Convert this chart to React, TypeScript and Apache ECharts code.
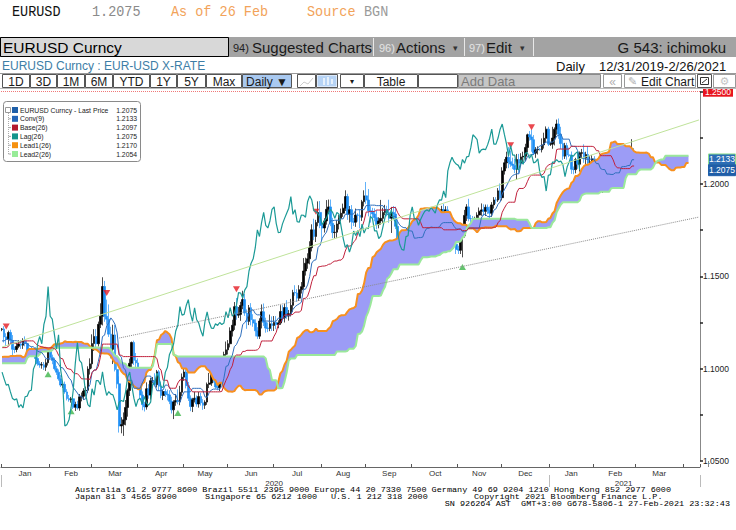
import React, { useEffect, useRef } from 'react';
import * as echarts from 'echarts';

// ---------- axis / calendar data ----------
const monthLabels = ['Jan','Feb','Mar','Apr','May','Jun','Jul','Aug','Sep','Oct','Nov','Dec','Jan','Feb','Mar','Apr'];
const monthDays = [23,20,22,22,21,22,23,21,22,22,21,23,21,20,23,22];
const yearLabels = ['2020','2021'];
const yearStarts = [0, 262];
const yearMids = [130, 297];
const totalDays = 334;
const yTicks = { min: 1.05, max: 1.25, step: 0.025 };

// ---------- daily data: [close, upper wick pips, lower wick pips] ----------
const startOpen = 1.1064;
const sep19 = [[1.1074,30,20],[1.1001,15,25],[1.1072,18,15],[1.1030,25,18],[1.1040,35,20],[1.1016,40,12],[1.0990,25,25],[1.0993,30,20],[1.0940,20,15],[1.0921,20,20],[1.0940,20,40],[1.0899,15,12]];
const oct19 = [[1.0930,10,20],[1.0958,15,15],[1.0968,30,12],[1.0979,20,20],[1.0970,15,25],[1.0955,10,18],[1.0972,20,20],[1.1006,20,15],[1.1040,25,10],[1.1030,15,20],[1.1032,15,45],[1.1068,20,25],[1.1125,15,20],[1.1144,30,15],[1.1150,29,18],[1.1125,20,15],[1.1128,20,20],[1.1100,35,15],[1.1080,20,15],[1.1100,15,20],[1.1112,20,25],[1.1153,20,20],[1.1152,23,20]];
const nov19 = [[1.1166,10,25],[1.1128,10,15],[1.1075,15,10],[1.1066,25,15],[1.1051,20,20],[1.1018,15,15],[1.1033,15,20],[1.1010,25,15],[1.1006,20,15],[1.1022,15,18],[1.1051,15,20],[1.1071,20,15],[1.1077,20,20],[1.1073,25,15],[1.1053,25,15],[1.1022,30,10],[1.1013,15,20],[1.1018,15,10],[1.1008,10,15],[1.1010,12,10],[1.1017,35,20]];
const dec19 = [[1.1078,40,15],[1.1081,35,15],[1.1077,25,15],[1.1104,20,20],[1.1058,10,20],[1.1065,25,20],[1.1092,15,15],[1.1129,15,20],[1.1130,70,25],[1.1121,70,25],[1.1144,20,20],[1.1150,25,15],[1.1112,10,15],[1.1122,15,20],[1.1078,15,10],[1.1089,10,15],[1.1090,15,10],[1.1090,5,5],[1.1100,10,10],[1.1176,10,10],[1.1199,15,15],[1.1213,25,15]];
const jan20 = [[1.1215,5,10],[1.1172,15,30],[1.1159,20,35],[1.1196,10,30],[1.1152,15,15],[1.1105,30,40],[1.1104,15,20],[1.1121,20,15],[1.1134,20,10],[1.1127,20,20],[1.1150,15,20],[1.1136,25,15],[1.1091,15,10],[1.1094,15,10],[1.1083,25,20],[1.1092,10,15],[1.1055,25,20],[1.1026,20,10],[1.1020,15,15],[1.1021,15,20],[1.1008,15,15],[1.1032,20,20],[1.1093,15,15]];
const feb20 = [[1.1061,20,15],[1.1044,15,20],[1.1000,15,10],[1.0981,15,15],[1.0945,15,10],[1.0911,20,10],[1.0915,15,15],[1.0874,15,10],[1.0838,15,10],[1.0831,20,10],[1.0837,10,15],[1.0791,10,10],[1.0806,15,20],[1.0787,20,9],[1.0848,15,15],[1.0851,20,25],[1.0879,15,20],[1.0883,20,25],[1.0998,15,15],[1.1026,30,30]];
const mar20 = [[1.1136,50,25],[1.1174,40,40],[1.1135,40,30],[1.1240,15,15],[1.1284,70,20],[1.1445,50,50],[1.1284,30,30],[1.1268,90,30],[1.1187,80,15],[1.1105,40,50],[1.1183,55,80],[1.0995,55,10],[1.0918,40,25],[1.0690,40,36],[1.0697,40,40],[1.0723,40,61],[1.0790,40,30],[1.0882,10,50],[1.1029,25,30],[1.1142,5,30],[1.1045,10,25],[1.1031,40,50]];
const apr20 = [[1.0962,25,25],[1.0857,15,20],[1.0805,20,30],[1.0793,15,25],[1.0891,35,15],[1.0857,25,20],[1.0935,15,25],[1.0935,20,15],[1.0913,40,10],[1.0983,10,15],[1.0905,10,25],[1.0855,25,15],[1.0876,10,25],[1.0862,15,15],[1.0858,25,30],[1.0823,25,15],[1.0777,25,20],[1.0819,10,50],[1.0828,35,20],[1.0822,60,15],[1.0872,35,20],[1.0954,20,20]];
const may20 = [[1.0982,40,20],[1.0908,15,15],[1.0840,20,15],[1.0795,15,25],[1.0832,10,30],[1.0840,35,15],[1.0809,15,15],[1.0849,25,20],[1.0815,20,15],[1.0802,20,25],[1.0819,10,20],[1.0915,10,15],[1.0922,55,20],[1.0977,15,15],[1.0949,25,25],[1.0901,15,10],[1.0898,15,15],[1.0980,15,20],[1.1006,20,50],[1.1077,15,35],[1.1102,45,20]];
const jun20 = [[1.1135,20,25],[1.1204,20,20],[1.1235,30,30],[1.1336,25,25],[1.1290,47,25],[1.1294,40,15],[1.1342,20,35],[1.1374,48,20],[1.1301,30,15],[1.1256,20,40],[1.1330,15,20],[1.1265,25,30],[1.1247,30,20],[1.1205,20,30],[1.1176,20,15],[1.1258,15,15],[1.1308,40,40],[1.1251,45,20],[1.1220,25,25],[1.1218,30,20],[1.1243,50,15],[1.1234,40,30]];
const jul20 = [[1.1250,35,30],[1.1239,35,25],[1.1247,15,20],[1.1309,35,10],[1.1275,35,20],[1.1331,20,25],[1.1285,40,15],[1.1298,20,25],[1.1343,35,15],[1.1412,15,35],[1.1410,40,15],[1.1382,20,20],[1.1427,25,15],[1.1444,25,20],[1.1529,70,15],[1.1571,30,25],[1.1595,30,30],[1.1655,35,30],[1.1752,30,20],[1.1716,60,20],[1.1791,15,30],[1.1846,60,20],[1.1776,62,15]];
const aug20 = [[1.1762,20,70],[1.1800,15,25],[1.1863,50,20],[1.1876,40,25],[1.1787,40,15],[1.1737,30,30],[1.1739,40,30],[1.1784,20,30],[1.1814,20,30],[1.1842,25,15],[1.1869,25,20],[1.1932,34,15],[1.1836,15,30],[1.1861,20,45],[1.1796,25,40],[1.1793,20,20],[1.1832,35,25],[1.1831,10,35],[1.1820,30,60],[1.1904,10,20],[1.1936,30,25]];
const sep20 = [[1.1913,75,20],[1.1855,60,30],[1.1851,25,60],[1.1838,20,30],[1.1818,30,20],[1.1780,40,25],[1.1800,20,20],[1.1814,100,20],[1.1846,25,25],[1.1862,25,15],[1.1845,20,20],[1.1815,70,25],[1.1846,30,80],[1.1837,35,25],[1.1771,40,15],[1.1706,30,25],[1.1657,25,15],[1.1672,15,35],[1.1632,15,20],[1.1667,20,15],[1.1745,15,15],[1.1721,40,40]];
const oct20 = [[1.1749,25,40],[1.1715,35,20],[1.1783,20,20],[1.1734,25,20],[1.1762,25,30],[1.1758,20,20],[1.1825,10,15],[1.1813,15,25],[1.1746,15,10],[1.1747,35,20],[1.1705,15,15],[1.1718,15,15],[1.1768,15,15],[1.1820,25,15],[1.1862,20,20],[1.1815,30,15],[1.1860,20,15],[1.1811,20,15],[1.1796,25,30],[1.1747,25,30],[1.1674,15,25],[1.1646,35,25]];
const nov20 = [[1.1641,20,20],[1.1715,30,20],[1.1720,50,112],[1.1830,30,10],[1.1876,15,30],[1.1813,44,15],[1.1812,20,25],[1.1777,15,20],[1.1808,15,25],[1.1832,15,20],[1.1853,20,25],[1.1860,35,25],[1.1852,30,25],[1.1874,15,25],[1.1858,15,20],[1.1842,20,40],[1.1887,15,20],[1.1914,15,20],[1.1913,15,20],[1.1963,15,10],[1.1926,40,10]];
const dec20 = [[1.2071,20,15],[1.2115,20,20],[1.2145,30,30],[1.2121,55,35],[1.2108,60,15],[1.2101,35,20],[1.2079,35,20],[1.2133,30,55],[1.2113,30,55],[1.2147,20,15],[1.2150,25,30],[1.2198,20,25],[1.2267,6,25],[1.2255,20,20],[1.2240,40,65],[1.2167,25,10],[1.2185,15,25],[1.2189,15,25],[1.2186,5,5],[1.2212,35,15],[1.2248,30,20],[1.2297,15,25],[1.2216,13,10]];
const jan21 = [[1.2216,10,10],[1.2249,61,25],[1.2297,10,40],[1.2325,24,30],[1.2270,30,25],[1.2219,40,30],[1.2151,30,20],[1.2208,15,15],[1.2157,15,25],[1.2156,40,10],[1.2080,20,25],[1.2078,15,25],[1.2132,10,20],[1.2107,40,25],[1.2166,10,40],[1.2170,20,30],[1.2140,45,25],[1.2160,15,40],[1.2114,45,20],[1.2120,30,45],[1.2136,20,25]];
const feb21 = [[1.2060,15,15],[1.2036,20,30],[1.2041,20,30],[1.1962,30,10],[1.2047,15,10],[1.2051,15,30],[1.2119,10,10],[1.2119,30,15],[1.2132,20,20],[1.2120,20,15],[1.2124,45,20],[1.2104,45,10],[1.2040,20,17],[1.2092,20,20],[1.2120,25,20],[1.2155,15,35],[1.2151,25,25],[1.2166,15,45],[1.2175,68,15],[1.2075,20,25]];

// ---------- signals, trend lines, annotations ----------
const sellSignals = [[2,1.1228],[50,1.1410],[103,1.0960],[112,1.1430],[150,1.1850],[243,1.2210],[253,1.2308]];
const buySignals = [[22,1.0970],[33,1.0770],[84,1.0760],[194,1.1610],[220,1.1550],[289,1.2003]];
const greenTrend = [[0,1.1117],[333,1.2347]];
const grayTrend = [[56,1.1166],[333,1.1821]];
const refLevel = 1.25;
const hiPoint = [265, 1.2349];
const lowPoint = [58, 1.0636];
const tagValues = [1.2133, 1.2075];
const legendNames = ['EURUSD Curncy - Last Price','Conv(9)','Base(26)','Lag(26)','Lead1(26)','Lead2(26)'];
const legendValues = ['1.2075','1.2133','1.2097','1.2075','1.2170','1.2054'];

// ---------- build ----------
const preDays = [...sep19, ...oct19, ...nov19, ...dec19];
const mainDays = [...jan20, ...feb20, ...mar20, ...apr20, ...may20, ...jun20, ...jul20, ...aug20, ...sep20, ...oct20, ...nov20, ...dec20, ...jan21, ...feb21];
const allDays = [...preDays, ...mainDays];
const P = preDays.length;
const LAST = mainDays.length - 1;

const O: number[] = [], H: number[] = [], L: number[] = [], C: number[] = [];
{
  let prev = startOpen;
  for (const [c, u, d] of allDays) {
    const o = prev;
    O.push(o); C.push(c);
    H.push(Math.max(o, c) + u / 1e4);
    L.push(Math.min(o, c) - d / 1e4);
    prev = c;
  }
}
function mid(g: number, n: number) {
  let hi = -Infinity, lo = Infinity;
  for (let k = g - n + 1; k <= g; k++) {
    if (k < 0) continue;
    if (H[k] > hi) hi = H[k];
    if (L[k] < lo) lo = L[k];
  }
  return +(((hi + lo) / 2).toFixed(5));
}

const dayMonthIdx: number[] = [];
const monthStarts: number[] = [];
{
  let acc = 0;
  monthDays.forEach((n, m) => { monthStarts.push(acc); acc += n; for (let i = 0; i < n; i++) dayMonthIdx.push(m); });
}
const startSet = new Set(monthStarts);
const midSet = new Set(monthStarts.map((s, m) => s + Math.floor(monthDays[m] / 2)));
const categories = Array.from({ length: totalDays }, (_, i) => monthLabels[dayMonthIdx[i]] + ' ' + i);

const candles: any[] = [], conv: any[] = [], base: any[] = [], lag: any[] = [], lead1: any[] = [], lead2: any[] = [], cloudLow: any[] = [], cloudDiff: any[] = [];
for (let d = 0; d < totalDays; d++) {
  const g = d + P;
  if (d <= LAST) {
    candles.push([O[g], C[g], +L[g].toFixed(5), +H[g].toFixed(5)]);
    conv.push(mid(g, 9));
    base.push(mid(g, 26));
  } else { candles.push('-'); conv.push('-'); base.push('-'); }
  lag.push(d + 26 <= LAST ? C[g + 26] : '-');
  if (d - 26 <= LAST) {
    const s = g - 26;
    const a = +(((mid(s, 9) + mid(s, 26)) / 2).toFixed(5));
    const b = mid(s, 52);
    lead1.push(a); lead2.push(b);
    cloudLow.push(Math.min(a, b)); cloudDiff.push(+Math.abs(a - b).toFixed(5));
  } else { lead1.push('-'); lead2.push('-'); cloudLow.push('-'); cloudDiff.push('-'); }
}

const SANS = '"Liberation Sans", "DejaVu Sans", sans-serif';
const MONO = '"Liberation Mono", "DejaVu Sans Mono", monospace';

function buildOption() {
  return {
    animation: false,
    backgroundColor: '#ffffff',
    grid: { left: 1, right: 28, top: 91.7, bottom: 69, containLabel: false },
    xAxis: [
      {
        type: 'category', data: categories, boundaryGap: true, offset: 6,
        axisLine: { show: true, lineStyle: { color: '#666', width: 1 } },
        axisTick: { show: true, inside: true, length: 3, interval: (i: number) => startSet.has(i), lineStyle: { color: '#555' } },
        axisLabel: { show: true, interval: (i: number) => midSet.has(i), formatter: (_v: any, i: number) => monthLabels[dayMonthIdx[i]], fontSize: 8, color: '#333', margin: 2, fontFamily: SANS },
        splitLine: { show: false },
      },
      {
        type: 'category', data: categories, boundaryGap: true, position: 'bottom', offset: 14,
        axisLine: { show: false },
        axisTick: { show: true, inside: false, length: 12, interval: (i: number) => yearStarts.includes(i), lineStyle: { color: '#bbb' } },
        axisLabel: { show: true, interval: (i: number) => yearMids.includes(i), formatter: (_v: any, i: number) => yearLabels[yearMids.indexOf(i)] || '', fontSize: 8, color: '#333', margin: 4, fontFamily: SANS },
        splitLine: { show: false },
      },
    ],
    yAxis: {
      type: 'value', position: 'right', min: yTicks.min, max: yTicks.max, interval: yTicks.step,
      axisLine: { show: true, lineStyle: { color: '#888' } },
      axisTick: { show: true, length: 3, lineStyle: { color: '#222', width: 1.5 } },
      axisLabel: {
        margin: 3, fontSize: 8.5, color: '#222', fontFamily: SANS,
        formatter: (v: number) => {
          if (Math.abs(v * 20 - Math.round(v * 20)) > 1e-6) return '';
          if (v > 1.2499) return '{r|' + v.toFixed(4) + '}';
          return v.toFixed(4);
        },
        rich: { r: { backgroundColor: '#e8141e', color: '#fff', padding: [1, 2, 0, 2], fontSize: 8.5, fontFamily: SANS } },
      },
      splitLine: { show: false },
    },
    series: [
      { name: 'cloudBase', type: 'line', stack: 'cloud', data: cloudLow, symbol: 'none', lineStyle: { opacity: 0 }, silent: true },
      { name: 'cloudFill', type: 'line', stack: 'cloud', data: cloudDiff, symbol: 'none', lineStyle: { opacity: 0 }, areaStyle: { color: '#9c9cf6', opacity: 1 }, silent: true },
      { name: 'Lead1(26)', type: 'line', data: lead1, symbol: 'none', lineStyle: { color: '#f7901e', width: 2 }, silent: true },
      {
        name: 'Lead2(26)', type: 'line', data: lead2, symbol: 'none', lineStyle: { color: '#9be89b', width: 2 }, silent: true,
        markLine: {
          silent: true, symbol: ['none', 'none'], label: { show: false }, animation: false,
          data: [
            [{ coord: greenTrend[0], lineStyle: { color: '#bfe39a', width: 1, type: 'solid' } }, { coord: greenTrend[1] }],
            [{ coord: grayTrend[0], lineStyle: { color: '#8c8c8c', width: 1, type: 'dotted' } }, { coord: grayTrend[1] }],
            { yAxis: refLevel, lineStyle: { color: '#f07878', width: 1, type: 'dotted' } },
          ],
        },
      },
      {
        name: 'EURUSD', type: 'candlestick', data: candles, barWidth: 2.2,
        itemStyle: { color: '#000000', color0: '#1e8ff5', borderColor: '#000000', borderColor0: '#1e8ff5', borderWidth: 0.7 },
        markPoint: {
          symbol: 'circle', symbolSize: 1, itemStyle: { opacity: 0 }, silent: true,
          label: { show: true, formatter: '{b}', color: '#6d8fb3', fontSize: 8, fontFamily: SANS },
          data: [
            { name: 'Hi: ' + hiPoint[1].toFixed(4), coord: hiPoint, label: { position: 'top', distance: 1 } },
            { name: 'Low: ' + lowPoint[1].toFixed(4), coord: lowPoint, label: { position: 'bottom', distance: 1 } },
          ],
        },
      },
      { name: 'Conv(9)', type: 'line', data: conv, symbol: 'none', lineStyle: { color: '#2f6fbd', width: 1 }, silent: true },
      { name: 'Base(26)', type: 'line', data: base, symbol: 'none', lineStyle: { color: '#c0213c', width: 1 }, silent: true },
      { name: 'Lag(26)', type: 'line', data: lag, symbol: 'none', lineStyle: { color: '#1b9a96', width: 1.2 }, silent: true },
      { name: 'sell', type: 'scatter', data: sellSignals, symbol: 'triangle', symbolRotate: 180, symbolSize: [7, 6], itemStyle: { color: '#e51c23' }, silent: true },
      { name: 'buy', type: 'scatter', data: buySignals, symbol: 'triangle', symbolSize: [7, 6], itemStyle: { color: '#3db54a' }, silent: true },
    ],
  };
}

function T(x: number, y: number, text: string, size: number, color: string, o: any = {}) {
  return {
    type: 'text', x, y, silent: true, z: 100, scaleX: o.sx || 1,
    style: {
      text, fill: color, font: `${o.weight || 'normal'} ${size}px ${o.family || SANS}`,
      align: o.align || 'left', textAlign: o.align || 'left', verticalAlign: 'middle', textVerticalAlign: 'middle',
    },
  };
}
function R(x: number, y: number, w: number, h: number, fill: string, stroke?: string, r = 0) {
  return { type: 'rect', silent: true, z: 90, shape: { x, y, width: w, height: h, r }, style: { fill, stroke: stroke || null, lineWidth: 1 } };
}
function Ln(x1: number, y1: number, x2: number, y2: number, color: string, dash?: number[]) {
  return { type: 'line', silent: true, z: 95, shape: { x1, y1, x2, y2 }, style: { stroke: color, lineWidth: 1, lineDash: dash || null } };
}

function buildGraphics(tagYs: number[]) {
  const g: any[] = [];
  // Row 1
  g.push(T(12, 12, 'EURUSD', 15, '#111', { family: MONO, sx: 0.9 }));
  g.push(T(92, 12, '1.2075', 15, '#8a8a8a', { family: MONO, sx: 0.9 }));
  g.push(T(171, 12, 'As of 26 Feb', 15, '#f2a35a', { family: MONO, sx: 0.9 }));
  g.push(T(307, 12, 'Source', 15, '#f2a35a', { family: MONO, sx: 0.9 }));
  g.push(T(364, 12, 'BGN', 15, '#9a9a9a', { family: MONO, sx: 0.9 }));
  // Row 2
  g.push(R(0, 37, 736, 20, '#a3a3a3'));
  g.push(R(0.5, 37.5, 228, 19, '#d8d8d8', '#000'));
  g.push(T(3, 47.5, 'EURUSD Curncy', 15.5, '#000'));
  g.push(T(233, 47.5, '94)', 11, '#222'));
  g.push(T(252, 47.5, 'Suggested Charts', 15, '#1a1a1a'));
  g.push(Ln(373.5, 38, 373.5, 56, '#e8e8e8'));
  g.push(T(379, 47.5, '96)', 11, '#e4e4e4'));
  g.push(T(396, 47.5, 'Actions', 15, '#1a1a1a'));
  g.push(T(453, 48, '▾', 9, '#333'));
  g.push(Ln(464.5, 38, 464.5, 56, '#e8e8e8'));
  g.push(T(469, 47.5, '97)', 11, '#e4e4e4'));
  g.push(T(486, 47.5, 'Edit', 15, '#1a1a1a'));
  g.push(T(520, 48, '▾', 9, '#333'));
  g.push(Ln(533.5, 38, 533.5, 56, '#e8e8e8'));
  g.push(T(726, 47.5, 'G 543: ichimoku', 15, '#1a1a1a', { align: 'right' }));
  // Row 3
  g.push(T(2, 66, 'EURUSD Curncy : EUR-USD X-RATE', 12, '#3d7ea6'));
  g.push(T(556, 66, 'Daily', 13, '#111'));
  g.push(T(599, 66, '12/31/2019-2/26/2021', 13, '#111'));
  // Row 4 toolbar
  g.push(R(0, 73, 736, 16, '#ffffff'));
  g.push(Ln(0, 73.5, 736, 73.5, '#999'));
  g.push(Ln(0, 88.5, 736, 88.5, '#bbb'));
  const btns: any[] = [
    ['1D', 2, 30], ['3D', 30, 57], ['1M', 57, 85], ['6M', 85, 113], ['YTD', 113, 150], ['1Y', 150, 177],
    ['5Y', 177, 206], ['Max', 206, 242], ['Daily ▼', 242, 292], ['', 297, 316], ['', 316, 338], ['▾', 340, 364],
    ['Table', 364, 418], ['', 418, 458],
  ];
  btns.forEach(([t, a, b]) => {
    const fill = t === 'Daily ▼' ? '#a9c9f0' : '#ffffff';
    g.push(R(a + 0.5, 74.5, b - a - 1, 13, fill, '#555'));
    if (t) g.push(T((a + b) / 2, 81.5, t, t === '▾' ? 8 : 12, '#1a1a1a', { align: 'center' }));
  });
  g.push({ type: 'polyline', silent: true, z: 100, shape: { points: [[300, 86], [304, 82], [308, 84], [313, 78]] }, style: { stroke: '#ccc', fill: null, lineWidth: 1 } });
  g.push(R(317.5, 75.5, 19, 11, '#b6d3f5'));
  g.push(R(323, 78, 2, 7, '#e6f0fb'));
  g.push(R(327, 77, 2, 8, '#e6f0fb'));
  g.push(R(331, 79, 2, 5, '#e6f0fb'));
  g.push(R(458.5, 74.5, 142, 13, '#c6c6c6', '#8a8a8a'));
  g.push(T(461, 81.5, 'Add Data', 13, '#7a7a7a'));
  g.push(R(603.5, 74.5, 18, 13, '#ffffff', '#999'));
  g.push(T(612.5, 81.5, '«', 12, '#b0b0b0', { align: 'center' }));
  g.push(R(624.5, 74.5, 71, 13, '#ffffff', '#999'));
  g.push(T(628, 81.5, '✎', 11, '#b0b0b0', { family: '"DejaVu Sans", sans-serif' }));
  g.push(T(641, 81.5, 'Edit Chart', 12, '#1a1a1a'));
  g.push(R(697.5, 74.5, 14, 13, '#ffffff', '#555'));
  g.push(R(700.5, 77.5, 8, 7, '#ffffff', '#333'));
  g.push(Ln(702, 83, 707, 79, '#333'));
  g.push(R(713.5, 74.5, 22, 13, '#ffffff', '#999'));
  g.push(T(724.5, 81.5, '⚙', 11, '#c4c4c4', { align: 'center', family: '"DejaVu Sans", sans-serif' }));
  // legend box
  const legColors = ['#1f5fa8', '#2466b8', '#b3192f', '#14958c', '#f5900f', '#98ec98'];
  g.push(R(3.5, 101.5, 137, 60, '#ffffff', '#8a8a8a', 3));
  g.push(R(5.5, 107.5, 5, 5, '#ffffff', '#999'));
  g.push(Ln(8.5, 113, 8.5, 154, '#aaa', [1, 1]));
  legendNames.forEach((n, i) => {
    const y = 110 + i * 8.8;
    if (i > 0) g.push(Ln(8.5, y, 11, y, '#aaa'));
    g.push(R(12, y - 3, 6, 6, legColors[i]));
    g.push(T(20, y, n, 6.8, '#222'));
    g.push(T(137, y, legendValues[i], 6.8, '#222', { align: 'right' }));
  });
  // right value tags
  const tagStyle = [{ fill: '#2b6db6', stroke: '#8fe08f' }, { fill: '#1f5ea8', stroke: '#1f5ea8' }];
  tagValues.forEach((v, i) => {
    const y = tagYs[i];
    g.push(R(708.5, y - 5.5, 27, 11, tagStyle[i].fill, tagStyle[i].stroke));
    g.push(T(722, y, v.toFixed(4), 8.5, '#ffffff', { align: 'center' }));
  });
  g.push(Ln(708.5, 461, 708.5, 467, '#888'));
  // footer
  const FS = 6.8, SX = 1.25;
  g.push(T(75, 490.5, 'Australia 61 2 9777 8600 Brazil 5511 2395 9000 Europe 44 20 7330 7500 Germany 49 69 9204 1210 Hong Kong 852 2977 6000', FS, '#000', { family: MONO, sx: SX }));
  g.push(T(75, 497.6, 'Japan 81 3 4565 8900', FS, '#000', { family: MONO, sx: SX }));
  g.push(T(205, 497.6, 'Singapore 65 6212 1000', FS, '#000', { family: MONO, sx: SX }));
  g.push(T(331, 497.6, 'U.S. 1 212 318 2000', FS, '#000', { family: MONO, sx: SX }));
  g.push(T(474, 497.6, 'Copyright 2021 Bloomberg Finance L.P.', FS, '#000', { family: MONO, sx: SX }));
  g.push(T(730, 504.7, 'SN 926264 AST  GMT+3:00 G678-5806-1 27-Feb-2021 23:32:43', FS, '#000', { family: MONO, align: 'right', sx: SX }));
  return g;
}

export default function App() {
  const ref = useRef<HTMLDivElement>(null);
  useEffect(() => {
    document.body.style.margin = '0';
    const chart = echarts.init(ref.current as HTMLDivElement, null, { renderer: 'svg' });
    chart.setOption(buildOption() as any);
    const tagYs = tagValues.map((v) => chart.convertToPixel({ yAxisIndex: 0 } as any, v) as number);
    chart.setOption({ graphic: { elements: buildGraphics(tagYs) } } as any);
    return () => chart.dispose();
  }, []);
  return <div ref={ref} style={{ width: 736, height: 530, background: '#fff' }} />;
}
